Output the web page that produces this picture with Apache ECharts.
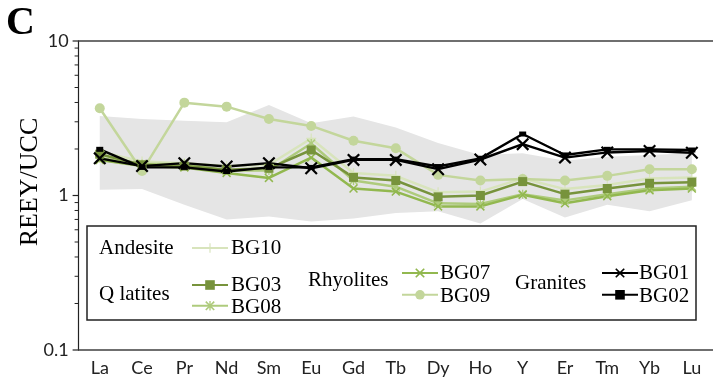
<!DOCTYPE html>
<html lang="en">
<head>
    <meta charset="UTF-8">
    <title>REEY/UCC</title>
    <script src="https://cdn.jsdelivr.net/npm/echarts@6/dist/echarts.min.js"></script>
</head>
<body style="margin:0">
    <div id="ec" style="width:713px;height:381px"></div>
</body>
<script>
    // elements on the x axis
    var elements = ['La', 'Ce', 'Pr', 'Nd', 'Sm', 'Eu', 'Gd', 'Tb', 'Dy', 'Ho', 'Y', 'Er', 'Tm', 'Yb', 'Lu']

    // grey field (upper / lower edge)
    var fieldTop = [3.27, 3.13, 3.05, 2.98, 3.85, 2.94, 3.24, 2.75, 2.19, 1.83, 1.88, 1.68, 1.78, 1.83, 1.88]
    var fieldBottom = [1.09, 1.10, 0.87, 0.70, 0.73, 0.68, 0.71, 0.77, 0.79, 0.66, 0.95, 0.72, 0.87, 0.79, 0.93]

    // samples
    var bg10 = [1.92, 1.66, 1.62, 1.55, 1.58, 2.34, 1.40, 1.34, 1.05, 1.06, 1.29, 1.10, 1.17, 1.29, 1.31]
    var bg03 = [1.85, 1.58, 1.55, 1.47, 1.50, 1.97, 1.31, 1.25, 0.98, 1.00, 1.23, 1.02, 1.11, 1.20, 1.22]
    var bg08 = [1.75, 1.60, 1.60, 1.45, 1.45, 2.17, 1.25, 1.14, 0.89, 0.88, 1.02, 0.93, 1.02, 1.11, 1.14]
    var bg07 = [1.70, 1.55, 1.52, 1.40, 1.30, 1.76, 1.11, 1.06, 0.85, 0.85, 1.01, 0.89, 0.99, 1.08, 1.11]
    var bg09 = [3.67, 1.44, 3.99, 3.76, 3.13, 2.82, 2.26, 2.02, 1.36, 1.25, 1.28, 1.25, 1.34, 1.48, 1.48]
    var bg01 = [1.74, 1.55, 1.62, 1.54, 1.62, 1.50, 1.70, 1.70, 1.48, 1.71, 2.15, 1.76, 1.90, 1.94, 1.89]
    var bg02 = [1.99, 1.52, 1.52, 1.43, 1.52, 1.52, 1.72, 1.72, 1.54, 1.74, 2.50, 1.83, 1.99, 1.99, 1.97]

    // y ticks: majors (labelled) and minors 2..9 in each decade
    var majorTicks = [0.1, 1, 10]
    var minorTicks = [0.2, 0.3, 0.4, 0.5, 0.6, 0.7, 0.8, 0.9, 2, 3, 4, 5, 6, 7, 8, 9]

    var crossPath = 'path://M0,1.2L1.2,0L5,3.8L8.8,0L10,1.2L6.2,5L10,8.8L8.8,10L5,6.2L1.2,10L0,8.8L3.8,5Z'
    var starPath = 'path://M0,1.2L1.2,0L5,3.8L8.8,0L10,1.2L6.2,5L10,8.8L8.8,10L5,6.2L1.2,10L0,8.8L3.8,5ZM4.3,0L5.7,0L5.7,10L4.3,10Z'
    var plusPath = 'path://M4.4,0L5.6,0L5.6,4.4L10,4.4L10,5.6L5.6,5.6L5.6,10L4.4,10L4.4,5.6L0,5.6L0,4.4L4.4,4.4Z'

    var sans = 'Lato'
    var serifFont = '21px "Liberation Serif"'

    function line(name, data, color, symbol, size, width) {
        return {
            name: name,
            type: 'line',
            data: data,
            symbol: symbol,
            symbolSize: size,
            showAllSymbol: true,
            lineStyle: { color: color, width: width || 2.5 },
            itemStyle: { color: color },
            emphasis: { disabled: true },
            z: 3
        }
    }

    // legend shows only the keys, names are written next to them as text
    function legendAt(names, left, top, gap) {
        return {
            data: names,
            orient: 'vertical',
            left: left,
            top: top,
            padding: 0,
            itemGap: gap,
            itemWidth: 36,
            itemHeight: 12,
            formatter: function () { return '' },
            textStyle: { fontSize: 10 },
            selectedMode: false,
            z: 12
        }
    }

    function label(text, x, y) {
        return { type: 'text', x: x, y: y, z: 11, style: { text: text, font: serifFont, fill: '#000', verticalAlign: 'middle' } }
    }

    var mychart = echarts.init(document.getElementById('ec'))
    var options = {
        animation: false,
        grid: { left: 78.6, top: 41, width: 642, height: 309 },
        xAxis: [{
            type: 'category',
            data: elements,
            boundaryGap: true,
            axisLine: { lineStyle: { color: '#404040', width: 1.5 } },
            axisTick: { show: false },
            axisLabel: { fontFamily: sans, fontSize: 18, color: '#222', margin: 9 }
        }, {
            type: 'category',
            data: elements,
            position: 'top',
            axisLine: { lineStyle: { color: '#404040', width: 1.5 } },
            axisTick: { show: false },
            axisLabel: { show: false }
        }],
        yAxis: {
            type: 'log',
            logBase: 10,
            min: 0.1,
            max: 10,
            axisLine: { show: true, lineStyle: { color: '#222', width: 1.2 } },
            axisTick: { show: false },
            axisLabel: { fontFamily: sans, fontSize: 18, color: '#222', margin: 10 },
            splitLine: { show: false }
        },
        legend: [
            legendAt(['BG10'], 191, 242, 10),
            legendAt(['BG03', 'BG08'], 191, 279, 10),
            legendAt(['BG07', 'BG09'], 401, 267, 11),
            legendAt(['BG01', 'BG02'], 601, 267, 11)
        ],
        series: [
            {
                type: 'custom',
                name: 'field',
                data: fieldTop.map(function (v, i) { return [i, v, fieldBottom[i]] }),
                z: 1,
                silent: true,
                renderItem: function (params, api) {
                    if (params.dataIndex !== 0) return
                    var pts = []
                    for (var i = 0; i < elements.length; i++) pts.push(api.coord([i, fieldTop[i]]))
                    for (var j = elements.length - 1; j >= 0; j--) pts.push(api.coord([j, fieldBottom[j]]))
                    return { type: 'polygon', shape: { points: pts }, style: { fill: '#e5e5e5' } }
                }
            },
            line('BG10', bg10, '#d8e4bc', plusPath, 10, 2.5),
            line('BG09', bg09, '#c3d69b', 'circle', 10, 2.5),
            line('BG08', bg08, '#aecb7c', starPath, 9, 2.5),
            line('BG07', bg07, '#92b84f', crossPath, 9, 2.5),
            line('BG03', bg03, '#77933c', 'rect', 9, 2.5),
            line('BG02', bg02, '#000', 'rect', [7, 5], 2.4),
            line('BG01', bg01, '#000', crossPath, 13, 2.4)
        ]
    }
    mychart.setOption(options)

    // y ticks, placed through the log axis
    var axisX = 78.6
    var ticks = []
    majorTicks.forEach(function (v) {
        var y = mychart.convertToPixel({ yAxisIndex: 0 }, v)
        ticks.push({ type: 'line', z: 20, shape: { x1: axisX - 6, y1: y, x2: axisX, y2: y }, style: { stroke: '#222', lineWidth: 1.2 } })
    })
    minorTicks.forEach(function (v) {
        var y = mychart.convertToPixel({ yAxisIndex: 0 }, v)
        ticks.push({ type: 'line', z: 20, shape: { x1: axisX - 4, y1: y, x2: axisX, y2: y }, style: { stroke: '#222', lineWidth: 1 } })
    })

    mychart.setOption({
        graphic: [
            { type: 'text', left: 6, top: 4, style: { text: 'C', font: 'bold 40px "Liberation Serif"', fill: '#000' } },
            { type: 'text', x: 30, y: 182, rotation: Math.PI / 2,
              style: { text: 'REEY/UCC', font: '26px "Liberation Serif"', fill: '#000', align: 'center', verticalAlign: 'middle' } },
            { type: 'rect', shape: { x: 87, y: 226, width: 609, height: 94 }, z: 10,
              style: { fill: '#fff', stroke: '#222', lineWidth: 1.5 } },
            label('Andesite', 99, 248),
            label('Q latites', 99, 294),
            label('Rhyolites', 308, 280),
            label('Granites', 515, 283),
            label('BG10', 231, 248),
            label('BG03', 231, 285),
            label('BG08', 231, 307),
            label('BG07', 440, 273),
            label('BG09', 440, 296),
            label('BG01', 639, 273),
            label('BG02', 639, 296)
        ].concat(ticks)
    })
</script>
</html>
